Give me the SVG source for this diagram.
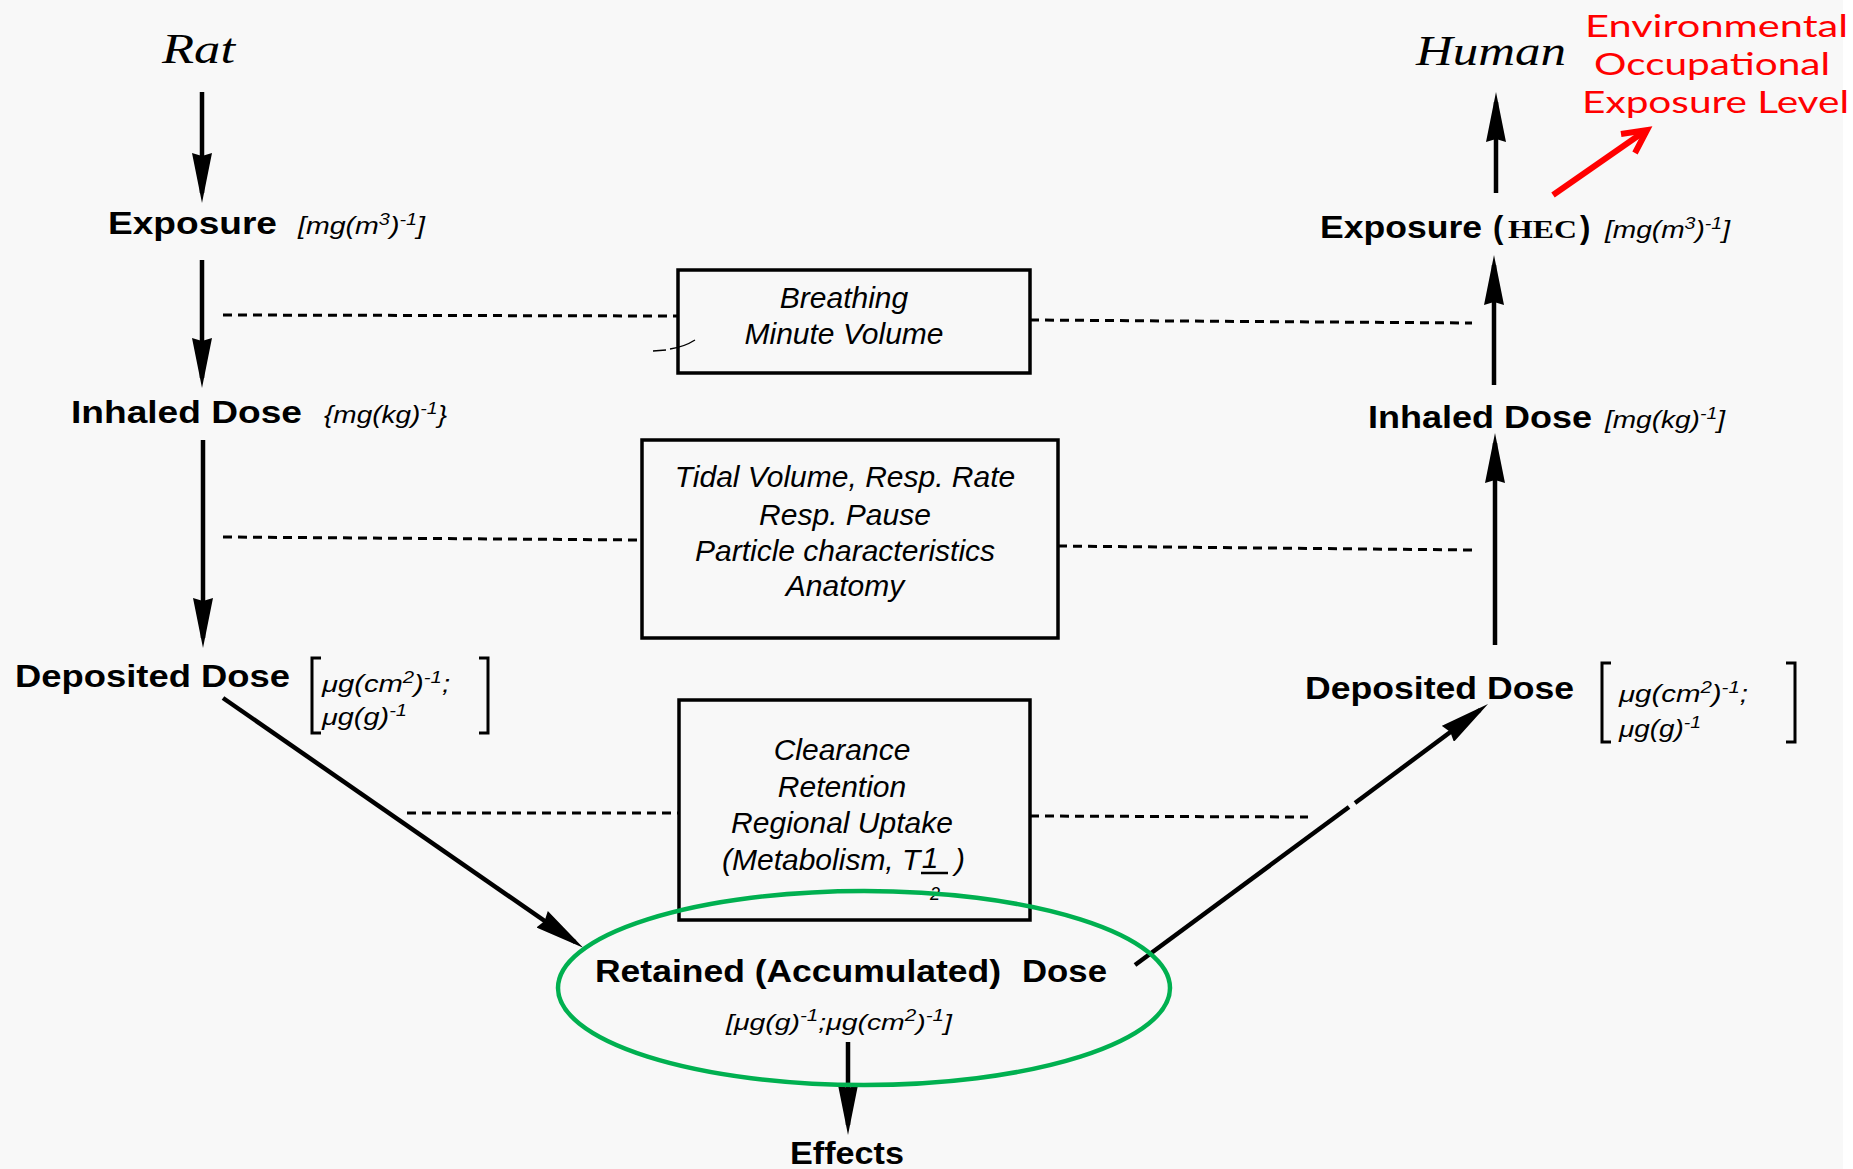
<svg xmlns="http://www.w3.org/2000/svg" width="1853" height="1169" viewBox="0 0 1853 1169">
<defs>
<style>
.bold{font-family:"Liberation Sans",Arial,sans-serif;font-weight:bold;font-size:31px;fill:#000}
.unit{font-family:"Liberation Sans",Arial,sans-serif;font-style:italic;font-size:23px;fill:#000}
.bt{font-family:"Liberation Sans",Arial,sans-serif;font-style:italic;font-size:30px;text-anchor:middle;fill:#000}
.title{font-family:"Liberation Serif","Times New Roman",serif;font-style:italic;font-size:42px;fill:#000}
.red{font-family:Lato,"Open Sans",sans-serif;font-size:31.5px;fill:#ff0000}
.box{fill:none;stroke:#000;stroke-width:3.5}
.dash{fill:none;stroke:#000;stroke-width:3;stroke-dasharray:9 6}
.arrow{fill:none;stroke:#000;stroke-width:4.5;marker-end:url(#ah)}
.line{fill:none;stroke:#000;stroke-width:4.5}
.brk{fill:none;stroke:#000;stroke-width:3}
.sup{font-size:16px}
</style>
<marker id="ah" viewBox="0 0 50 20" refX="40" refY="10" markerWidth="50" markerHeight="20" markerUnits="userSpaceOnUse" orient="auto">
<path d="M0,0 L50,10 L0,20 L3,10 Z" fill="#000"/>
</marker>
</defs>
<rect x="0" y="0" width="1853" height="1169" fill="#f8f8f8"/>
<rect x="1843" y="0" width="10" height="1169" fill="#ffffff"/>

<g id="connectors">
<line class="arrow" x1="202" y1="92" x2="202" y2="193"/>
<line class="arrow" x1="202" y1="260" x2="202" y2="378"/>
<line class="arrow" x1="203" y1="440" x2="203" y2="638"/>
<line class="arrow" x1="223" y1="698" x2="575" y2="942"/>
<line class="arrow" x1="848" y1="1042" x2="848" y2="1125"/>
<line class="line" x1="1135" y1="965" x2="1349" y2="807"/>
<line class="arrow" x1="1355" y1="803" x2="1480" y2="710"/>
<line class="arrow" x1="1495" y1="645" x2="1495" y2="443"/>
<line class="arrow" x1="1494" y1="385" x2="1494" y2="265"/>
<line class="arrow" x1="1496" y1="193" x2="1496" y2="102"/>
<line class="dash" x1="223" y1="315" x2="678" y2="316"/>
<line class="dash" x1="1030" y1="320" x2="1472" y2="323"/>
<line class="dash" x1="223" y1="537" x2="642" y2="540"/>
<line class="dash" x1="1058" y1="546" x2="1472" y2="550"/>
<line class="dash" x1="407" y1="813" x2="679" y2="813"/>
<line class="dash" x1="1030" y1="816" x2="1308" y2="817"/>
<line x1="1553" y1="195" x2="1645" y2="131" stroke="#ff0000" stroke-width="6"/>
<polyline points="1621,134 1647,130 1635,153" fill="none" stroke="#ff0000" stroke-width="6"/>
<path d="M653,351 L666,350 M670,349 Q684,347 695,340" fill="none" stroke="#000" stroke-width="1.3"/>
</g>

<g id="node-rat">
<text class="title" x="162" y="63" textLength="73" lengthAdjust="spacingAndGlyphs">Rat</text>
</g>
<g id="node-exposure-rat">
<text class="bold" x="108" y="234" textLength="169" lengthAdjust="spacingAndGlyphs">Exposure</text>
<text class="unit" x="298" y="234" textLength="127" lengthAdjust="spacingAndGlyphs">[mg(m<tspan class="sup" dy="-9">3</tspan><tspan dy="9">)</tspan><tspan class="sup" dy="-9">-1</tspan><tspan dy="9">]</tspan></text>
</g>
<g id="node-inhaled-rat">
<text class="bold" x="71" y="423" textLength="231" lengthAdjust="spacingAndGlyphs">Inhaled Dose</text>
<text class="unit" x="324" y="423" textLength="123" lengthAdjust="spacingAndGlyphs">{mg(kg)<tspan class="sup" dy="-9">-1</tspan><tspan dy="9">}</tspan></text>
</g>
<g id="node-deposited-rat">
<text class="bold" x="15" y="687" textLength="275" lengthAdjust="spacingAndGlyphs">Deposited Dose</text>
<path class="brk" d="M321,658 H312 V733 H321"/>
<path class="brk" d="M479,658 H488 V733 H479"/>
<text class="unit" x="322" y="692" textLength="128" lengthAdjust="spacingAndGlyphs">μg(cm<tspan class="sup" dy="-9">2</tspan><tspan dy="9">)</tspan><tspan class="sup" dy="-9">-1</tspan><tspan dy="9">;</tspan></text>
<text class="unit" x="322" y="725" textLength="85" lengthAdjust="spacingAndGlyphs">μg(g)<tspan class="sup" dy="-9">-1</tspan></text>
</g>

<g id="node-box-breathing">
<rect class="box" x="678" y="270" width="352" height="103"/>
<text class="bt" x="844" y="308">Breathing</text>
<text class="bt" x="844" y="344">Minute Volume</text>
</g>
<g id="node-box-tidal">
<rect class="box" x="642" y="440" width="416" height="198"/>
<text class="bt" x="845" y="487">Tidal Volume, Resp. Rate</text>
<text class="bt" x="845" y="525">Resp. Pause</text>
<text class="bt" x="845" y="561">Particle characteristics</text>
<text class="bt" x="845" y="596">Anatomy</text>
</g>
<g id="node-box-clearance">
<rect class="box" x="679" y="700" width="351" height="220"/>
<text class="bt" x="842" y="760">Clearance</text>
<text class="bt" x="842" y="797">Retention</text>
<text class="bt" x="842" y="833">Regional Uptake</text>
<text class="bt" x="722" y="870" style="text-anchor:start">(Metabolism, T</text>
<text class="bt" x="930" y="868">1</text>
<line x1="921" y1="873" x2="948" y2="873" stroke="#000" stroke-width="2.5"/>
<text class="bt" x="960" y="870">)</text>
<text class="bt" x="935" y="900" style="font-size:18px">2</text>
</g>

<g id="node-retained">
<text class="bold" x="595" y="982" textLength="406" lengthAdjust="spacingAndGlyphs">Retained (Accumulated)</text>
<text class="bold" x="1022" y="982" textLength="85" lengthAdjust="spacingAndGlyphs">Dose</text>
<text class="unit" x="726" y="1030" textLength="226" lengthAdjust="spacingAndGlyphs" style="font-size:22px">[μg(g)<tspan class="sup" dy="-9">-1</tspan><tspan dy="9">;μg(cm</tspan><tspan class="sup" dy="-9">2</tspan><tspan dy="9">)</tspan><tspan class="sup" dy="-9">-1</tspan><tspan dy="9">]</tspan></text>
<ellipse cx="864" cy="988" rx="306" ry="97" fill="none" stroke="#00b050" stroke-width="4.5"/>
</g>
<g id="node-effects">
<text class="bold" x="790" y="1164" textLength="114" lengthAdjust="spacingAndGlyphs">Effects</text>
</g>

<g id="node-human">
<text class="title" x="1416" y="65" textLength="150" lengthAdjust="spacingAndGlyphs">Human</text>
</g>
<g id="node-exposure-human">
<text class="bold" x="1320" y="238" textLength="162" lengthAdjust="spacingAndGlyphs">Exposure</text>
<text class="bold" x="1493" y="238">(</text>
<text x="1508" y="238" textLength="69" lengthAdjust="spacingAndGlyphs" style="font-family:'Liberation Serif','Times New Roman',serif;font-weight:bold;font-size:26px">HEC</text>
<text class="bold" x="1580" y="238">)</text>
<text class="unit" x="1605" y="238" textLength="125" lengthAdjust="spacingAndGlyphs">[mg(m<tspan class="sup" dy="-9">3</tspan><tspan dy="9">)</tspan><tspan class="sup" dy="-9">-1</tspan><tspan dy="9">]</tspan></text>
</g>
<g id="node-inhaled-human">
<text class="bold" x="1368" y="428" textLength="224" lengthAdjust="spacingAndGlyphs">Inhaled Dose</text>
<text class="unit" x="1605" y="428" textLength="120" lengthAdjust="spacingAndGlyphs">[mg(kg)<tspan class="sup" dy="-9">-1</tspan><tspan dy="9">]</tspan></text>
</g>
<g id="node-deposited-human">
<text class="bold" x="1305" y="699" textLength="269" lengthAdjust="spacingAndGlyphs">Deposited Dose</text>
<path class="brk" d="M1611,663 H1602 V742 H1611"/>
<path class="brk" d="M1786,663 H1795 V742 H1786"/>
<text class="unit" x="1619" y="702" textLength="129" lengthAdjust="spacingAndGlyphs">μg(cm<tspan class="sup" dy="-9">2</tspan><tspan dy="9">)</tspan><tspan class="sup" dy="-9">-1</tspan><tspan dy="9">;</tspan></text>
<text class="unit" x="1619" y="737" textLength="82" lengthAdjust="spacingAndGlyphs">μg(g)<tspan class="sup" dy="-9">-1</tspan></text>
</g>

<g id="node-oel">
<text class="red" x="1585" y="37" textLength="263" lengthAdjust="spacingAndGlyphs">Environmental</text>
<text class="red" x="1594" y="75" textLength="236" lengthAdjust="spacingAndGlyphs">Occupational</text>
<text class="red" x="1582" y="113" textLength="267" lengthAdjust="spacingAndGlyphs">Exposure Level</text>
</g>
</svg>
